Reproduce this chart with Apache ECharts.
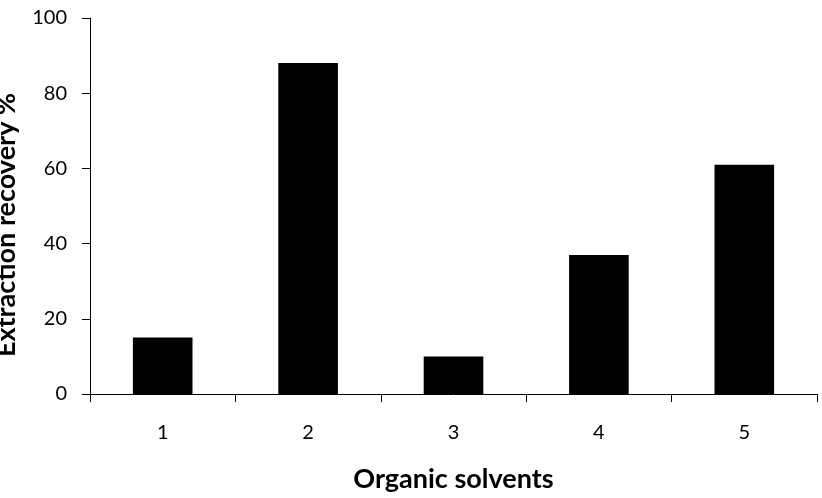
<!DOCTYPE html>
<html>
<head>
<meta charset="utf-8">
<script src="https://cdn.jsdelivr.net/npm/echarts@6/dist/echarts.min.js"></script>
<style>
  html, body { margin: 0; padding: 0; background: #fff; }
  #chart { width: 822px; height: 498px; }
</style>
</head>
<body>
<div id="chart"></div>
<script>
const solvents = ["1", "2", "3", "4", "5"];
const recovery = [15, 88, 10, 37, 61];

const chart = echarts.init(document.getElementById("chart"));
const font = "Lato, 'Open Sans', sans-serif";

chart.setOption({
  animation: false,
  grid: { left: 90, right: 5, top: 18, bottom: 104, outerBoundsMode: "none", containLabel: false },
  xAxis: {
    type: "category",
    data: solvents,
    name: "Organic solvents",
    nameLocation: "middle",
    nameGap: 72,
    nameTextStyle: { fontFamily: font, fontSize: 27, fontWeight: "bold", color: "#000" },
    axisLine: { lineStyle: { color: "#000", width: 1 } },
    axisTick: { show: true, length: 8, lineStyle: { color: "#000" } },
    axisLabel: { fontFamily: font, fontSize: 20, color: "#000", margin: 29 },
  },
  yAxis: {
    type: "value",
    min: 0,
    max: 100,
    interval: 20,
    name: "Extraction recovery %",
    nameLocation: "middle",
    nameGap: 70,
    nameTextStyle: { fontFamily: font, fontSize: 27, fontWeight: "bold", color: "#000", padding: [0, 38, 0, 0] },
    axisLine: { show: true, lineStyle: { color: "#000", width: 1 } },
    axisTick: { show: true, length: 8, lineStyle: { color: "#000" } },
    axisLabel: { fontFamily: font, fontSize: 20, color: "#000", margin: 23 },
    splitLine: { show: false },
  },
  series: [
    {
      type: "bar",
      data: recovery,
      barWidth: "41%",
      itemStyle: { color: "#000" },
    },
  ],
});
</script>
</body>
</html>
